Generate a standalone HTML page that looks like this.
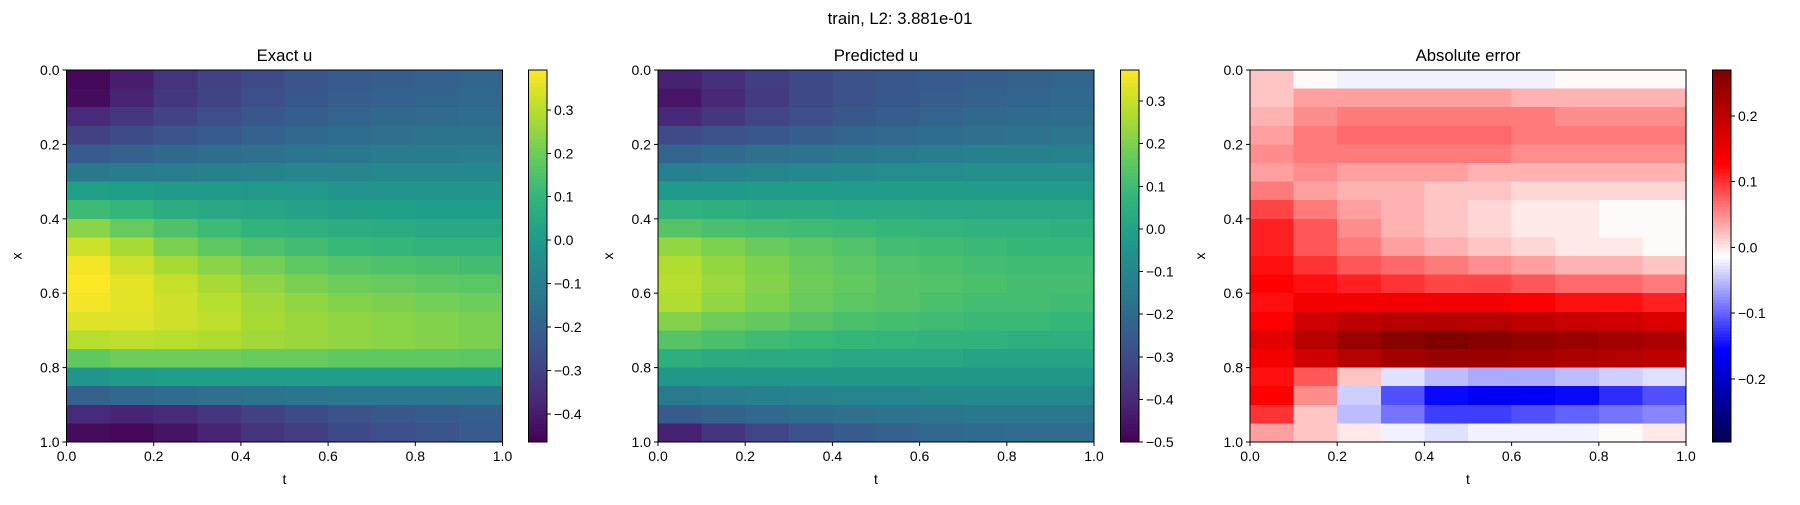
<!DOCTYPE html>
<html><head><meta charset="utf-8"><style>
body{margin:0;background:#fff}
svg text{font-family:"Liberation Sans","DejaVu Sans",sans-serif;fill:#000}
</style></head><body>
<svg id="fig" width="1800" height="500" xmlns="http://www.w3.org/2000/svg">
<text x="900" y="24" font-size="16.7" text-anchor="middle">train, L2: 3.881e-01</text>
</svg>
<script>
const tGrid = [0.05,0.15,0.25,0.35,0.45,0.55,0.65,0.75,0.85,0.95];
const xGrid = [0.025,0.075,0.125,0.175,0.225,0.275,0.325,0.375,0.425,0.475,0.525,0.575,0.625,0.675,0.725,0.775,0.825,0.875,0.925,0.975];
const axisTicks = [0,0.2,0.4,0.6,0.8,1.0];
const axisTickLabels = ["0.0","0.2","0.4","0.6","0.8","1.0"];
const exactU = [
[-0.45,-0.40,-0.34,-0.30,-0.27,-0.24,-0.22,-0.21,-0.20,-0.19],
[-0.44,-0.38,-0.33,-0.29,-0.26,-0.23,-0.21,-0.20,-0.19,-0.18],
[-0.36,-0.33,-0.29,-0.26,-0.23,-0.21,-0.19,-0.18,-0.17,-0.16],
[-0.30,-0.27,-0.24,-0.22,-0.20,-0.18,-0.16,-0.15,-0.14,-0.14],
[-0.22,-0.20,-0.18,-0.16,-0.15,-0.13,-0.12,-0.11,-0.11,-0.10],
[-0.12,-0.11,-0.10,-0.09,-0.08,-0.07,-0.07,-0.06,-0.06,-0.06],
[0.02,0.01,0.00,0.00,-0.01,-0.01,-0.02,-0.02,-0.02,-0.02],
[0.12,0.10,0.07,0.05,0.04,0.03,0.02,0.02,0.01,0.01],
[0.24,0.19,0.15,0.12,0.09,0.08,0.07,0.06,0.05,0.05],
[0.33,0.28,0.22,0.18,0.15,0.13,0.11,0.10,0.09,0.09],
[0.38,0.33,0.28,0.24,0.21,0.18,0.16,0.15,0.14,0.13],
[0.39,0.36,0.32,0.28,0.25,0.22,0.20,0.19,0.18,0.17],
[0.38,0.36,0.33,0.30,0.27,0.25,0.23,0.22,0.21,0.20],
[0.35,0.35,0.33,0.31,0.28,0.26,0.25,0.24,0.23,0.22],
[0.30,0.31,0.30,0.29,0.27,0.26,0.25,0.24,0.23,0.22],
[0.18,0.20,0.20,0.20,0.19,0.19,0.18,0.18,0.18,0.17],
[-0.02,0.00,0.01,0.01,0.01,0.01,0.01,0.01,0.01,0.01],
[-0.20,-0.18,-0.16,-0.15,-0.14,-0.13,-0.12,-0.12,-0.12,-0.12],
[-0.36,-0.38,-0.36,-0.33,-0.30,-0.27,-0.25,-0.23,-0.22,-0.21],
[-0.44,-0.45,-0.42,-0.38,-0.34,-0.31,-0.28,-0.26,-0.24,-0.22]];
const predU = [
[-0.42,-0.38,-0.34,-0.31,-0.28,-0.26,-0.25,-0.24,-0.23,-0.22],
[-0.45,-0.40,-0.35,-0.31,-0.28,-0.26,-0.24,-0.23,-0.22,-0.21],
[-0.40,-0.36,-0.32,-0.29,-0.26,-0.24,-0.22,-0.21,-0.20,-0.19],
[-0.30,-0.28,-0.26,-0.24,-0.22,-0.20,-0.19,-0.18,-0.17,-0.16],
[-0.22,-0.20,-0.18,-0.17,-0.15,-0.14,-0.13,-0.12,-0.12,-0.11],
[-0.12,-0.11,-0.10,-0.09,-0.08,-0.07,-0.07,-0.06,-0.06,-0.06],
[-0.03,-0.03,-0.02,-0.02,-0.02,-0.02,-0.02,-0.02,-0.02,-0.02],
[0.06,0.05,0.04,0.04,0.03,0.03,0.02,0.02,0.02,0.02],
[0.14,0.12,0.11,0.10,0.09,0.08,0.07,0.06,0.06,0.05],
[0.23,0.20,0.17,0.15,0.13,0.11,0.10,0.09,0.08,0.08],
[0.27,0.23,0.20,0.17,0.15,0.13,0.12,0.11,0.10,0.10],
[0.28,0.24,0.21,0.18,0.16,0.14,0.13,0.12,0.11,0.11],
[0.27,0.23,0.20,0.17,0.15,0.14,0.12,0.11,0.11,0.10],
[0.21,0.18,0.16,0.14,0.12,0.11,0.10,0.09,0.09,0.08],
[0.14,0.12,0.10,0.09,0.08,0.07,0.06,0.06,0.05,0.05],
[0.05,0.04,0.03,0.03,0.02,0.02,0.02,0.01,0.01,0.01],
[-0.04,-0.04,-0.04,-0.04,-0.04,-0.04,-0.04,-0.04,-0.04,-0.04],
[-0.14,-0.13,-0.12,-0.11,-0.10,-0.10,-0.09,-0.09,-0.09,-0.09],
[-0.25,-0.23,-0.21,-0.19,-0.18,-0.17,-0.16,-0.15,-0.15,-0.15],
[-0.42,-0.37,-0.32,-0.28,-0.25,-0.23,-0.21,-0.20,-0.19,-0.19]];
const errU = [
[0.02,-0.01,-0.02,-0.02,-0.02,-0.02,-0.02,-0.01,-0.01,-0.01],
[0.02,0.04,0.04,0.04,0.04,0.04,0.03,0.03,0.03,0.03],
[0.03,0.05,0.06,0.06,0.06,0.06,0.06,0.05,0.05,0.05],
[0.04,0.06,0.07,0.07,0.07,0.07,0.06,0.06,0.06,0.06],
[0.05,0.06,0.06,0.06,0.06,0.06,0.05,0.05,0.05,0.05],
[0.04,0.05,0.04,0.04,0.04,0.03,0.03,0.03,0.03,0.03],
[0.06,0.04,0.03,0.03,0.02,0.02,0.01,0.01,0.01,0.01],
[0.09,0.06,0.04,0.03,0.02,0.01,0.00,0.00,-0.01,-0.01],
[0.11,0.08,0.05,0.03,0.02,0.01,0.00,0.00,-0.01,-0.01],
[0.11,0.08,0.06,0.04,0.03,0.02,0.01,0.00,0.00,-0.01],
[0.12,0.10,0.08,0.07,0.06,0.05,0.04,0.03,0.03,0.02],
[0.13,0.12,0.11,0.10,0.09,0.09,0.08,0.07,0.07,0.06],
[0.12,0.14,0.14,0.14,0.14,0.14,0.13,0.12,0.12,0.11],
[0.13,0.18,0.20,0.21,0.21,0.21,0.20,0.19,0.18,0.17],
[0.16,0.21,0.24,0.26,0.27,0.26,0.25,0.24,0.23,0.22],
[0.14,0.18,0.21,0.23,0.24,0.24,0.23,0.22,0.21,0.20],
[0.12,0.08,0.02,-0.03,-0.05,-0.06,-0.06,-0.05,-0.04,-0.03],
[0.13,0.05,-0.04,-0.11,-0.15,-0.16,-0.16,-0.15,-0.13,-0.11],
[0.10,0.02,-0.05,-0.09,-0.12,-0.12,-0.11,-0.10,-0.09,-0.08],
[0.04,0.02,0.00,-0.02,-0.03,-0.02,-0.02,-0.02,-0.01,0.00]];
const exactRange = [-0.465,0.392];
const predRange = [-0.5,0.373];
const errRange = [-0.296,0.270];
const exactCbTicks = [-0.4,-0.3,-0.2,-0.1,0.0,0.1,0.2,0.3];
const exactCbLabels = ["\u22120.4","\u22120.3","\u22120.2","\u22120.1","0.0","0.1","0.2","0.3"];
const predCbTicks = [-0.5,-0.4,-0.3,-0.2,-0.1,0.0,0.1,0.2,0.3];
const predCbLabels = ["\u22120.5","\u22120.4","\u22120.3","\u22120.2","\u22120.1","0.0","0.1","0.2","0.3"];
const errCbTicks = [-0.2,-0.1,0.0,0.1,0.2];
const errCbLabels = ["\u22120.2","\u22120.1","0.0","0.1","0.2"];

const viridisStops=[[68,1,84],[72,40,120],[62,74,137],[49,104,142],[38,130,142],[31,158,137],[53,183,121],[109,205,89],[180,222,44],[253,231,37]];
const seismicStops=[[0,0,77],[0,0,255],[255,255,255],[255,0,0],[128,0,0]];
function cmap(stops,f){f=Math.max(0,Math.min(1,f));const n=stops.length-1;const p=f*n;let i=Math.floor(p);if(i>=n)i=n-1;const r=p-i;const a=stops[i],b=stops[i+1];
return 'rgb('+[0,1,2].map(k=>Math.round(a[k]+(b[k]-a[k])*r)).join(',')+')';}
const NS='http://www.w3.org/2000/svg';
const svg=document.getElementById('fig');
function mk(tag,attrs,parent){const e=document.createElementNS(NS,tag);for(const k in attrs)e.setAttribute(k,attrs[k]);(parent||svg).appendChild(e);return e;}
const TOP=70,BOT=442,H=BOT-TOP,W=436;

function panel(key,left,title,data,range,stops,cbLeft,cbTicks,cbLabels){
  const g=mk('g',{});
  
  
  const sx=t=>left+t*W, sy=x=>TOP+x*H;
  const dt=tGrid[1]-tGrid[0], dx=xGrid[1]-xGrid[0];
  const hm=mk('g',{'shape-rendering':'crispEdges'},g);
  
  
  data.forEach((row,i)=>row.forEach((v,j)=>{
    const x0=sx(tGrid[j]-dt/2),x1=sx(tGrid[j]+dt/2),y0=sy(xGrid[i]-dx/2),y1=sy(xGrid[i]+dx/2);
    const r=mk('rect',{x:x0,y:y0,width:x1-x0+0.6,height:y1-y0+0.6,fill:cmap(stops,(v-range[0])/(range[1]-range[0]))},hm);
    
    
  }));
  const fr=mk('rect',{x:left,y:TOP,width:W,height:H,fill:'none',stroke:'#000','stroke-width':1},g);
  
  
  axisTicks.forEach((v,i)=>{
    mk('line',{x1:sx(v),x2:sx(v),y1:BOT,y2:BOT+4,stroke:'#000'},g);
    const tx=mk('text',{x:sx(v),y:BOT+19,'font-size':14,'text-anchor':'middle'},g);tx.textContent=axisTickLabels[i];
    
    
    mk('line',{x1:left-4,x2:left,y1:sy(v),y2:sy(v),stroke:'#000'},g);
    const ty=mk('text',{x:left-7,y:sy(v)+5,'font-size':14,'text-anchor':'end'},g);ty.textContent=axisTickLabels[i];
    
    
  });
  const xl=mk('text',{x:left+W/2,y:484,'font-size':14,'text-anchor':'middle'},g);xl.textContent='t';
  
  
  const yl=mk('text',{x:left-45,y:TOP+H/2,'font-size':14,'text-anchor':'middle',transform:'rotate(-90 '+(left-45)+' '+(TOP+H/2)+')'},g);yl.textContent='x';
  
  
  const tt=mk('text',{x:left+W/2,y:TOP-9,'font-size':16.7,'text-anchor':'middle'},g);tt.textContent=title;
  
  
  const cbW=18.5;
  const cb=mk('g',{'shape-rendering':'crispEdges'},g);
  
  
  const N=120;
  for(let k=0;k<N;k++){mk('rect',{x:cbLeft,y:BOT-(k+1)*H/N,width:cbW,height:H/N+0.6,fill:cmap(stops,(k+0.5)/N)},cb);}
  mk('rect',{x:cbLeft,y:TOP,width:cbW,height:H,fill:'none',stroke:'#000'},cb);
  const cy=v=>BOT-(v-range[0])/(range[1]-range[0])*H;
  cbTicks.forEach((v,i)=>{
    mk('line',{x1:cbLeft+cbW,x2:cbLeft+cbW+4,y1:cy(v),y2:cy(v),stroke:'#000'},cb);
    const l=mk('text',{x:cbLeft+cbW+7,y:cy(v)+5,'font-size':14},cb);l.textContent=cbLabels[i];
    
    
  });
}
panel('exact',66.5,'Exact u',exactU,exactRange,viridisStops,528.5,exactCbTicks,exactCbLabels);
panel('predicted',658,'Predicted u',predU,predRange,viridisStops,1120.5,predCbTicks,predCbLabels);
panel('error',1250,'Absolute error',errU,errRange,seismicStops,1712.5,errCbTicks,errCbLabels);
</script>
</body></html>
